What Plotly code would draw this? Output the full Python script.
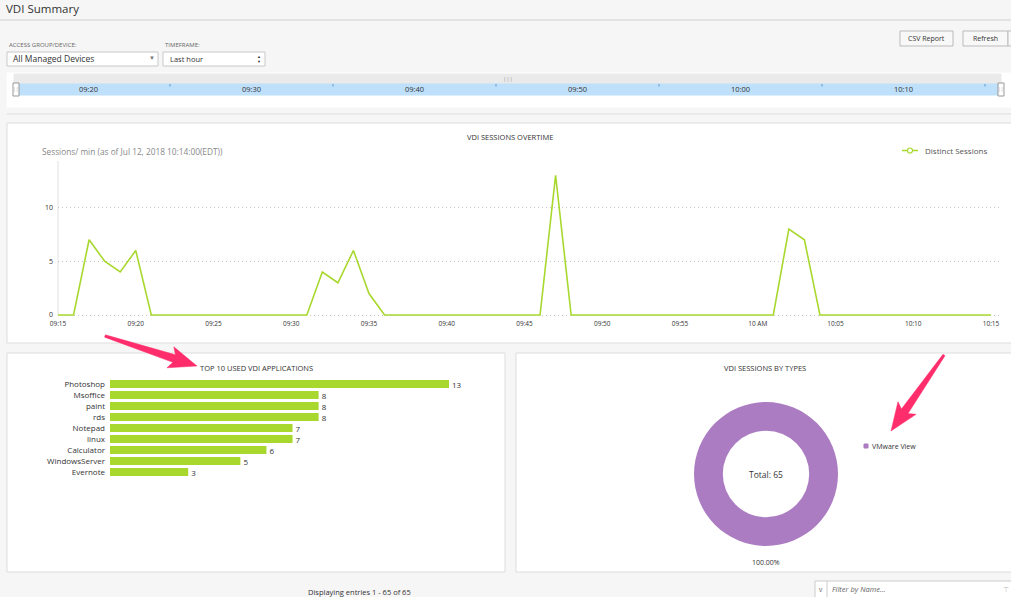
import math
import plotly.graph_objects as go
import pandas as pd

W, H = 1011, 597

# ---------------- data ----------------
session_times = pd.date_range("2018-07-12 09:15", "2018-07-12 10:15", freq="1min")
distinct_sessions = [0, 0, 7, 5, 4, 6, 0, 0, 0, 0,
                     0, 0, 0, 0, 0, 0, 0, 4, 3, 6,
                     2, 0, 0, 0, 0, 0, 0, 0, 0, 0,
                     0, 0, 13, 0, 0, 0, 0, 0, 0, 0,
                     0, 0, 0, 0, 0, 0, 0, 8, 7, 0,
                     0, 0, 0, 0, 0, 0, 0, 0, 0, 0,
                     0]
x_tick_times = ["2018-07-12 09:15", "2018-07-12 09:20", "2018-07-12 09:25", "2018-07-12 09:30",
                "2018-07-12 09:35", "2018-07-12 09:40", "2018-07-12 09:45", "2018-07-12 09:50",
                "2018-07-12 09:55", "2018-07-12 10:00", "2018-07-12 10:05", "2018-07-12 10:10",
                "2018-07-12 10:15"]
x_tick_labels = ["09:15", "09:20", "09:25", "09:30", "09:35", "09:40", "09:45", "09:50",
                 "09:55", "10 AM", "10:05", "10:10", "10:15"]

apps = ["Photoshop", "Msoffice", "paint", "rds", "Notepad", "linux",
        "Calculator", "WindowsServer", "Evernote"]
app_counts = [13, 8, 8, 8, 7, 7, 6, 5, 3]

session_types = ["VMware View"]
type_counts = [65]

timeline_labels = ["09:20", "09:30", "09:40", "09:50", "10:00", "10:10"]

# ---------------- helpers ----------------
def X(px):
    return px / W

def Y(py):
    return 1 - py / H

FONT = "Open Sans"
GREEN = "#a8d82e"
PURPLE = "#ab7cc1"
PINK = "#ff2d6b"

shapes = []
annots = []

def rect(x0, y0, x1, y1, fill="white", line="#dddddd", lw=1):
    shapes.append(dict(type="rect", xref="paper", yref="paper",
                       x0=X(x0), x1=X(x1), y0=Y(y1), y1=Y(y0),
                       fillcolor=fill, line=dict(color=line, width=lw), layer="below"))

def hline(x0, x1, y, color="#d8d8d8", lw=1, dash="solid"):
    shapes.append(dict(type="line", xref="paper", yref="paper",
                       x0=X(x0), x1=X(x1), y0=Y(y), y1=Y(y),
                       line=dict(color=color, width=lw, dash=dash), layer="below"))

def vline(x, y0, y1, color="#d8d8d8", lw=1):
    shapes.append(dict(type="line", xref="paper", yref="paper",
                       x0=X(x), x1=X(x), y0=Y(y0), y1=Y(y1),
                       line=dict(color=color, width=lw), layer="below"))

def text(x, y, s, size=8, color="#333333", xanchor="left", italic=False, family=FONT):
    annots.append(dict(xref="paper", yref="paper", x=X(x), y=Y(y), text=s,
                       showarrow=False, xanchor=xanchor, yanchor="middle",
                       font=dict(size=size, color=color, family=family,
                                 style="italic" if italic else "normal")))

def arrow(tx, ty, px_, py_, head_len=24, head_hw=11, tail_hw=1.2, base_hw=4):
    dx, dy = px_ - tx, py_ - ty
    ln = math.hypot(dx, dy)
    ux, uy = dx / ln, dy / ln
    nx, ny = -uy, ux
    bx, by = px_ - ux * head_len, py_ - uy * head_len
    notch = 4
    bbx, bby = bx - ux * notch, by - uy * notch
    pts = [(tx + nx * tail_hw, ty + ny * tail_hw),
           (bx + nx * base_hw, by + ny * base_hw),
           (bbx + nx * head_hw, bby + ny * head_hw),
           (px_, py_),
           (bbx - nx * head_hw, bby - ny * head_hw),
           (bx - nx * base_hw, by - ny * base_hw),
           (tx - nx * tail_hw, ty - ny * tail_hw)]
    path = "M " + " L ".join(f"{X(a):.5f},{Y(b):.5f}" for a, b in pts) + " Z"
    shapes.append(dict(type="path", xref="paper", yref="paper", path=path,
                       fillcolor=PINK, line=dict(color=PINK, width=0.5), layer="above"))

# ---------------- page chrome ----------------
text(4, 9, "VDI Summary", size=11.5, color="#333333")
hline(0, W, 20, color="#cfcfcf")

text(7, 45, "ACCESS GROUP/DEVICE:", size=6, color="#666666")
rect(7, 52, 158, 66, fill="white", line="#c8c8c8")
text(11, 59, "All Managed Devices", size=8.5, color="#333333")
text(152, 58, "▼", size=6, color="#777777", xanchor="center")

text(163, 45, "TIMEFRAME:", size=6, color="#666666")
rect(163, 52, 265, 66, fill="white", line="#c8c8c8")
text(168, 59, "Last hour", size=7.5, color="#333333")
text(259, 57, "▲", size=4, color="#333333", xanchor="center")
text(259, 61, "▼", size=4, color="#333333", xanchor="center")

rect(900, 31, 953, 46, fill="#f8f8f8", line="#bbbbbb")
text(926.5, 38.5, "CSV Report", size=7, color="#333333", xanchor="center")
rect(963, 31, 1008, 46, fill="#f8f8f8", line="#bbbbbb")
text(985.5, 38.5, "Refresh", size=7, color="#333333", xanchor="center")
rect(1008, 31, 1016, 46, fill="#f8f8f8", line="#bbbbbb")

# timeline slider
rect(7, 73, 1011, 107, fill="white", line="white")
rect(14, 74, 1001, 84, fill="#eaeaea", line="#eaeaea")
rect(14, 84, 1001, 95, fill="#bee0fa", line="#bee0fa")
tl_x = [88, 251, 414, 577, 740, 903]
for lx, lab in zip(tl_x, timeline_labels):
    text(lx, 89.5, lab, size=7.5, color="#333333", xanchor="center")
for tx in [170, 333, 496, 659, 822, 985]:
    vline(tx, 84, 86.5, color="#5b9bd5")
text(508, 79, "|||", size=6, color="#999999", xanchor="center")
rect(13, 83, 19, 96, fill="white", line="#999999")
text(16, 89.5, "||", size=5, color="#aaaaaa", xanchor="center")
rect(998, 83, 1004, 96, fill="white", line="#999999")
text(1001, 89.5, "||", size=5, color="#aaaaaa", xanchor="center")
hline(7, W, 114, color="#dddddd")

# panels
rect(7, 123, 1016, 343)
rect(7, 353, 505, 572)
rect(516, 353, 1016, 572)

# line chart texts
text(510, 137, "VDI SESSIONS OVERTIME", size=7.5, color="#333333", xanchor="center")
text(40, 151, "Sessions/ min (as of Jul 12, 2018 10:14:00(EDT))", size=8.3, color="#888888")
vline(58, 161, 315, color="#e0e0e0")
# legend (manual)
hline(902, 918, 150.5, color=GREEN, lw=1.5)
shapes.append(dict(type="circle", xref="paper", yref="paper",
                   x0=X(907.5), x1=X(912.5), y0=Y(153), y1=Y(148),
                   fillcolor="white", line=dict(color=GREEN, width=1.2)))
text(923, 150.5, "Distinct Sessions", size=8, color="#555555")

# bar chart title
text(256, 368, "TOP 10 USED VDI APPLICATIONS", size=7.5, color="#333333", xanchor="center")

# donut texts
text(765, 368, "VDI SESSIONS BY TYPES", size=7.5, color="#333333", xanchor="center")
text(766, 474, "Total: " + str(sum(type_counts)), size=8.5, color="#333333", xanchor="center")
text(766, 562, "100.00%", size=7, color="#333333", xanchor="center")
rect(864, 444, 868, 448, fill=PURPLE, line=PURPLE)
text(870, 446, session_types[0], size=7, color="#333333")

# bottom
text(359, 592, "Displaying entries 1 - " + str(sum(type_counts)) + " of " + str(sum(type_counts)),
     size=7.5, color="#333333", xanchor="center")
rect(815, 581, 1016, 600, fill="white", line="#cccccc")
vline(827, 581, 597, color="#cccccc")
text(821, 589, "v", size=6.5, color="#555555", xanchor="center")
text(830, 589, "Filter by Name...", size=7.5, color="#666666", italic=True)
text(1006, 589, "⊤", size=7, color="#bbbbbb", xanchor="center")

# pink arrows (screenshot annotations)
arrow(105, 336, 197, 366)
arrow(944, 355, 891, 431)

# ---------------- traces ----------------
fig = go.Figure()

fig.add_trace(go.Scatter(x=session_times, y=distinct_sessions, mode="lines",
                         line=dict(color=GREEN, width=1.6), name="Distinct Sessions",
                         showlegend=False, xaxis="x", yaxis="y"))

fig.add_trace(go.Bar(x=app_counts, y=apps, orientation="h", marker=dict(color=GREEN, line=dict(width=0)),
                     text=app_counts, textposition="outside", cliponaxis=False,
                     constraintext="none",
                     textfont=dict(size=8, color="#333333", family=FONT),
                     showlegend=False, xaxis="x2", yaxis="y2"))

fig.add_trace(go.Pie(labels=session_types, values=type_counts, hole=0.6,
                     marker=dict(colors=[PURPLE], line=dict(width=0)),
                     textinfo="none", sort=False, showlegend=False,
                     domain=dict(x=[X(694), X(838)], y=[Y(546), Y(402)])))

# line chart axes
px_per_unit = 10.75
y_lo = -0.3
y_hi = (315 - 161) / px_per_unit
px_per_min = (991 - 58) / 60.0
x_end = pd.Timestamp("2018-07-12 10:15") + pd.Timedelta(minutes=(1000 - 991) / px_per_min)

# bar axes
bar_px = (449 - 110) / 13.0

fig.update_layout(
    width=W, height=H,
    margin=dict(l=0, r=0, t=0, b=0, autoexpand=False),
    paper_bgcolor="#f6f6f6", plot_bgcolor="rgba(0,0,0,0)",
    font=dict(family=FONT, color="#333333"),
    showlegend=False,
    xaxis=dict(domain=[X(58), X(1000)], type="date", automargin=False,
               range=[pd.Timestamp("2018-07-12 09:15"), x_end],
               tickvals=x_tick_times, ticktext=x_tick_labels,
               showgrid=False, zeroline=False, showline=False, ticks="",
               tickfont=dict(size=6.5, color="#333333"), anchor="y"),
    yaxis=dict(domain=[Y(315 - y_lo * px_per_unit), Y(161)], range=[y_lo, y_hi],
               automargin=False,
               tickvals=[0, 5, 10], showgrid=True, gridcolor="#c4c4c4", griddash="1px,3px",
               gridwidth=1, zeroline=False, showline=False, ticks="",
               ticklabelstandoff=4,
               tickfont=dict(size=7, color="#333333"), anchor="x"),
    xaxis2=dict(domain=[X(110), X(110 + 15 * bar_px)], range=[0, 15], visible=False,
                automargin=False, anchor="y2"),
    yaxis2=dict(domain=[Y(477.5), Y(378.5)], type="category", autorange="reversed",
                automargin=False, ticklabelstandoff=4,
                showgrid=False, zeroline=False, showline=False, ticks="",
                tickfont=dict(size=8, color="#333333"), anchor="x2"),
    bargap=0.27,
    shapes=shapes,
    annotations=annots,
)

fig.write_html("out.html")
